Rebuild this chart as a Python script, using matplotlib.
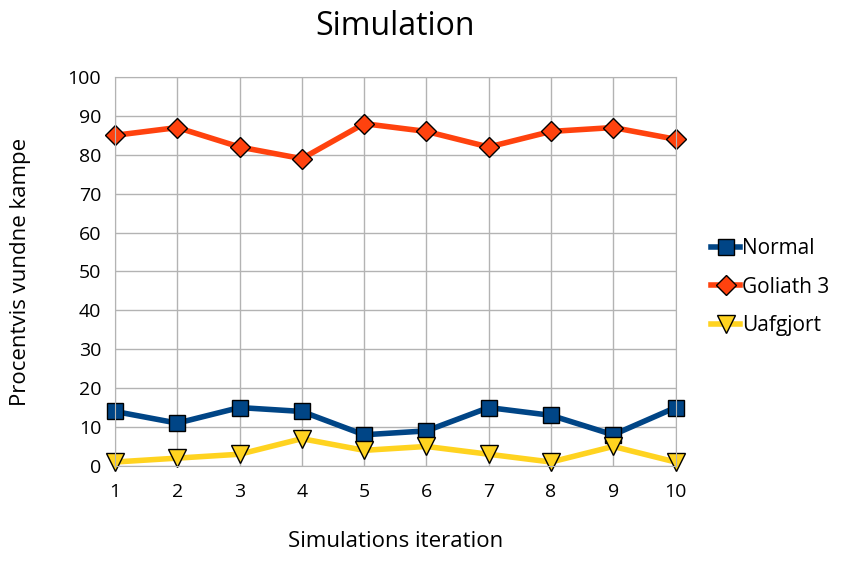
import matplotlib.pyplot as plt

plt.rcParams['font.family'] = ['Open Sans', 'DejaVu Sans']

iterations = [1, 2, 3, 4, 5, 6, 7, 8, 9, 10]
normal = [14, 11, 15, 14, 8, 9, 15, 13, 8, 15]
goliath = [85, 87, 82, 79, 88, 86, 82, 86, 87, 84]
uafgjort = [1, 2, 3, 7, 4, 5, 3, 1, 5, 1]

fig = plt.figure(figsize=(8.48, 5.62), dpi=100)
ax = fig.add_axes([0.1356, 0.171, 0.661, 0.692])

ax.plot(iterations, normal, color='#004586', lw=4, marker='s', ms=12,
        mfc='#004586', mec='black', mew=1, label='Normal', clip_on=False)
ax.plot(iterations, goliath, color='#ff420e', lw=4, marker='D', ms=10,
        mfc='#ff420e', mec='black', mew=1, label='Goliath 3', clip_on=False)
ax.plot(iterations, uafgjort, color='#ffd320', lw=4, marker='v', ms=13,
        mfc='#ffd320', mec='black', mew=1, label='Uafgjort', clip_on=False)

ax.set_xlim(1, 10)
ax.set_ylim(0, 100)
ax.set_xticks(iterations)
ax.set_yticks(range(0, 101, 10))
ax.grid(True, color='#b3b3b3', lw=1)
ax.set_axisbelow(True)
for s in ax.spines.values():
    s.set_color('#b3b3b3')
ax.tick_params(length=0, labelsize=14, pad=10)
ax.tick_params(axis='x', pad=12)

ax.set_title('Simulation', fontsize=23, pad=30)
ax.set_xlabel('Simulations iteration', fontsize=16, labelpad=22)
ax.set_ylabel('Procentvis vundne kampe', fontsize=16, labelpad=26)

ax.legend(loc='center left', bbox_to_anchor=(1.03, 0.46), frameon=False,
          fontsize=15, handlelength=1.4, handletextpad=0.1, labelspacing=0.85)

fig.savefig('out.png', dpi=100)
